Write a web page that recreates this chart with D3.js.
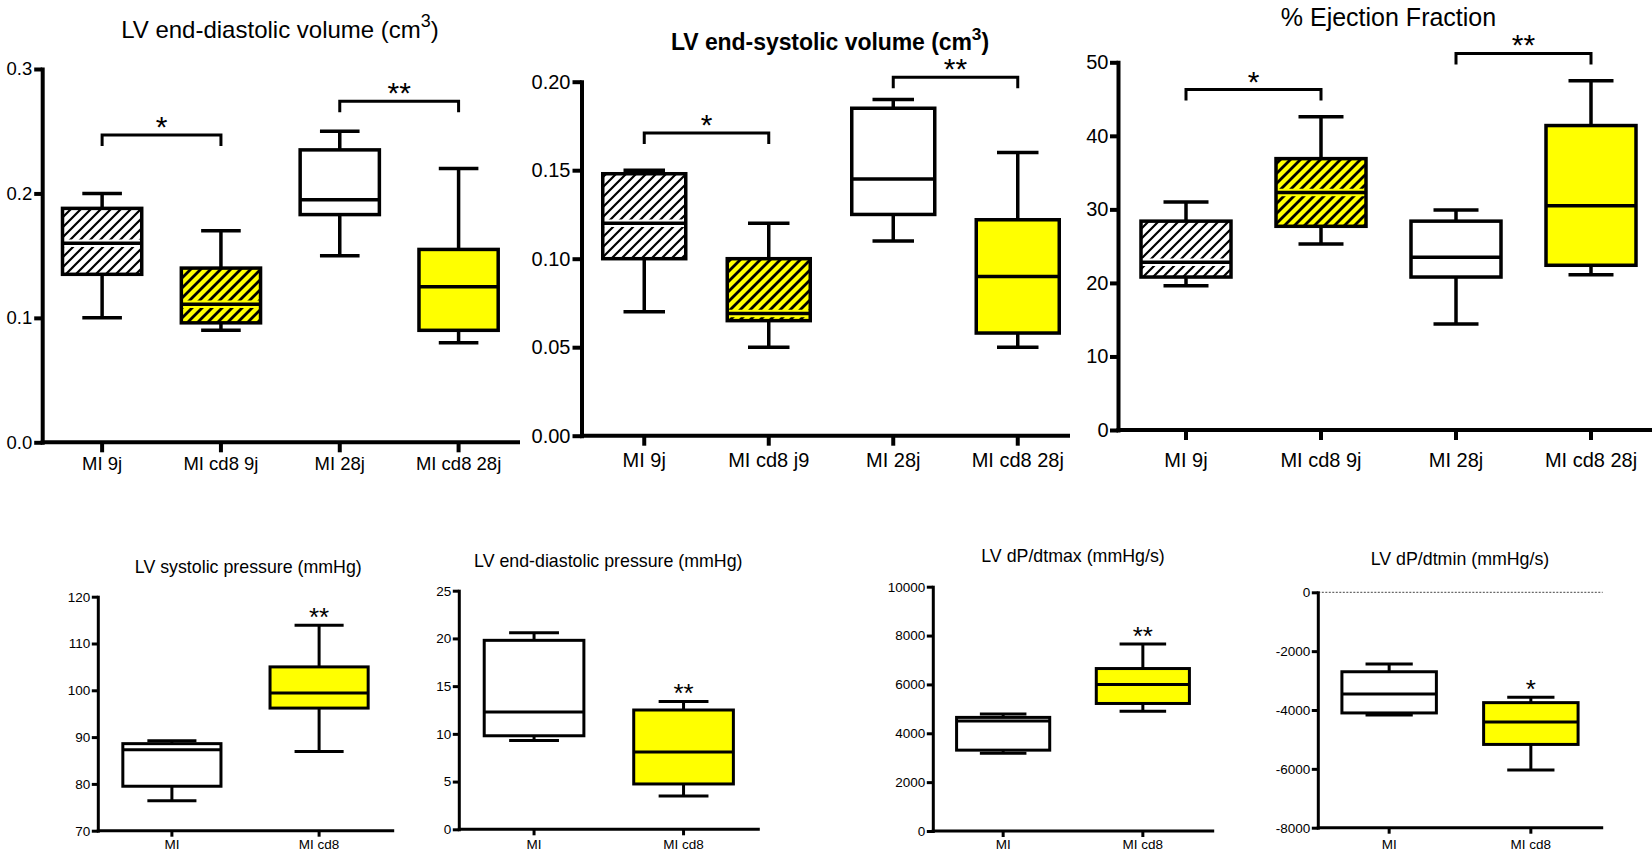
<!DOCTYPE html>
<html><head><meta charset="utf-8">
<script src="https://cdn.jsdelivr.net/npm/d3@7"></script>
<style>html,body{margin:0;padding:0;background:#fff;} svg{display:block;}</style>
</head><body>
<svg id="chart" width="1652" height="858"></svg>
<script>
// ---------------- DATA ----------------
// LV end-diastolic volume (cm3)
const edvCategories = ["MI 9j", "MI cd8 9j", "MI 28j", "MI cd8 28j"];
const edvMin    = [0.100, 0.090, 0.150, 0.080];
const edvQ1     = [0.135, 0.096, 0.183, 0.090];
const edvMedian = [0.160, 0.111, 0.195, 0.125];
const edvQ3     = [0.188, 0.140, 0.235, 0.155];
const edvMax    = [0.200, 0.170, 0.250, 0.220];
const edvTicks  = [0, 0.1, 0.2, 0.3];
const edvSig    = [{from: 0, to: 1, label: "*", level: 0.247}, {from: 2, to: 3, label: "**", level: 0.274}];

// LV end-systolic volume (cm3)
const esvCategories = ["MI 9j", "MI cd8 j9", "MI 28j", "MI cd8 28j"];
const esvMin    = [0.070, 0.050, 0.110, 0.050];
const esvQ1     = [0.100, 0.065, 0.125, 0.058];
const esvMedian = [0.120, 0.069, 0.145, 0.090];
const esvQ3     = [0.148, 0.100, 0.185, 0.122];
const esvMax    = [0.150, 0.120, 0.190, 0.160];
const esvTicks  = [0, 0.05, 0.10, 0.15, 0.20];
const esvSig    = [{from: 0, to: 1, label: "*", level: 0.171}, {from: 2, to: 3, label: "**", level: 0.2025}];

// % Ejection Fraction
const efCategories = ["MI 9j", "MI cd8 9j", "MI 28j", "MI cd8 28j"];
const efMin    = [19.6, 25.3, 14.4, 21.1];
const efQ1     = [20.8, 27.7, 20.8, 22.4];
const efMedian = [22.8, 32.3, 23.5, 30.5];
const efQ3     = [28.4, 36.9, 28.4, 41.4];
const efMax    = [31.0, 42.6, 29.9, 47.5];
const efTicks  = [0, 10, 20, 30, 40, 50];
const efSig    = [{from: 0, to: 1, label: "*", level: 46.3}, {from: 2, to: 3, label: "**", level: 51.2}];

// LV systolic pressure (mmHg)
const spCategories = ["MI", "MI cd8"];
const spMin    = [76.4, 86.9];
const spQ1     = [79.5, 96.2];
const spMedian = [87.3, 99.4];
const spQ3     = [88.6, 105.0];
const spMax    = [89.2, 113.9];
const spTicks  = [70, 80, 90, 100, 110, 120];
const spSig    = [{at: 1, label: "**"}];

// LV end-diastolic pressure (mmHg)
const edpCategories = ["MI", "MI cd8"];
const edpMin    = [9.3, 3.5];
const edpQ1     = [9.8, 4.75];
const edpMedian = [12.3, 8.1];
const edpQ3     = [19.8, 12.5];
const edpMax    = [20.6, 13.4];
const edpTicks  = [0, 5, 10, 15, 20, 25];
const edpSig    = [{at: 1, label: "**"}];

// LV dP/dtmax (mmHg/s)
const dpmaxCategories = ["MI", "MI cd8"];
const dpmaxMin    = [3180, 4900];
const dpmaxQ1     = [3310, 5220];
const dpmaxMedian = [4500, 6000];
const dpmaxQ3     = [4650, 6650];
const dpmaxMax    = [4790, 7650];
const dpmaxTicks  = [0, 2000, 4000, 6000, 8000, 10000];
const dpmaxSig    = [{at: 1, label: "**"}];

// LV dP/dtmin (mmHg/s)
const dpminCategories = ["MI", "MI cd8"];
const dpminMin    = [-4170, -6040];
const dpminQ1     = [-4100, -5170];
const dpminMedian = [-3460, -4410];
const dpminQ3     = [-2700, -3750];
const dpminMax    = [-2440, -3570];
const dpminTicks  = [-8000, -6000, -4000, -2000, 0];
const dpminSig    = [{at: 1, label: "*"}];

// ---------------- LAYOUT / STYLE ----------------
const FONT = "'Liberation Sans', Arial, Helvetica, sans-serif";
const YELLOW = "#ffff00";
const topStyle = {titleSize: 24, labelSize: 18.5, tickLabelSize: 18.5, yTickSize: 8, yTickPad: 2, xTickSize: 10,
             sw: 3.5, axisW: 4, bracketW: 3, bracketDrop: 11, starSize: 30};
const botStyle = {titleSize: 17.8, labelSize: 13.5, tickLabelSize: 13.5, yTickSize: 6, yTickPad: 1.5, xTickSize: 6,
             sw: 3, axisW: 3, starSize: 26, labelY: 849};

function rows(cats, mn, q1, md, q3, mx) {
  return cats.map((c, i) => ({cat: c, min: mn[i], q1: q1[i], median: md[i], q3: q3[i], max: mx[i], i}));
}

const panels = [
  Object.assign({}, topStyle, {
    data: rows(edvCategories, edvMin, edvQ1, edvMedian, edvQ3, edvMax), cats: edvCategories,
    ticks: edvTicks, fmt: d3.format(".1f"), sig: edvSig, domain: [0, 0.3],
    title: ["LV end-diastolic volume (cm", "3", ")"], titleX: 280, titleY: 38,
    x0: 42.7, x1: 518, axisEnd: 518, yTop: 69, yBottom: 442.3, labelY: 470,
    yellow: [false, true, false, true], hatched: [true, true, false, false]
  }),
  Object.assign({}, topStyle, {
    data: rows(esvCategories, esvMin, esvQ1, esvMedian, esvQ3, esvMax), cats: esvCategories,
    ticks: esvTicks, fmt: d3.format(".2f"), sig: esvSig, domain: [0, 0.2],
    title: ["LV end-systolic volume (cm", "3", ")"], titleX: 830, titleY: 50, titleSize: 23, bold: true, titleWidth: 318,
    x0: 582, x1: 1080, axisEnd: 1068, yTop: 81.7, yBottom: 435.7, labelY: 467,
    labelSize: 20, tickLabelSize: 20, yTickSize: 9,
    yellow: [false, true, false, true], hatched: [true, true, false, false]
  }),
  Object.assign({}, topStyle, {
    data: rows(efCategories, efMin, efQ1, efMedian, efQ3, efMax), cats: efCategories,
    ticks: efTicks, fmt: d3.format("d"), sig: efSig, domain: [0, 50],
    title: ["% Ejection Fraction"], titleX: 1388.5, titleY: 26, titleSize: 25,
    x0: 1118.5, x1: 1658.5, axisEnd: 1652, yTop: 62.3, yBottom: 430, labelY: 467,
    labelSize: 20, tickLabelSize: 20, yTickPad: 1.5,
    yellow: [false, true, false, true], hatched: [true, true, false, false]
  }),
  Object.assign({}, botStyle, {
    data: rows(spCategories, spMin, spQ1, spMedian, spQ3, spMax), cats: spCategories,
    ticks: spTicks, fmt: d3.format("d"), stars: spSig, domain: [70, 120],
    title: ["LV systolic pressure (mmHg)"], titleX: 248.3, titleY: 572.7,
    x0: 98.3, x1: 392.7, axisEnd: 392.7, yTop: 596.7, yBottom: 830.7,
    yellow: [false, true], hatched: [false, false]
  }),
  Object.assign({}, botStyle, {
    data: rows(edpCategories, edpMin, edpQ1, edpMedian, edpQ3, edpMax), cats: edpCategories,
    ticks: edpTicks, fmt: d3.format("d"), stars: edpSig, domain: [0, 25],
    title: ["LV end-diastolic pressure (mmHg)"], titleX: 608.3, titleY: 566.7,
    x0: 459.3, x1: 758.3, axisEnd: 758.3, yTop: 590.7, yBottom: 829.3,
    yellow: [false, true], hatched: [false, false]
  }),
  Object.assign({}, botStyle, {
    data: rows(dpmaxCategories, dpmaxMin, dpmaxQ1, dpmaxMedian, dpmaxQ3, dpmaxMax), cats: dpmaxCategories,
    ticks: dpmaxTicks, fmt: d3.format("d"), stars: dpmaxSig, domain: [0, 10000],
    title: ["LV dP/dtmax (mmHg/s)"], titleX: 1073, titleY: 561.7,
    x0: 933.3, x1: 1212.7, axisEnd: 1212.7, yTop: 586.7, yBottom: 831,
    yellow: [false, true], hatched: [false, false]
  }),
  Object.assign({}, botStyle, {
    data: rows(dpminCategories, dpminMin, dpminQ1, dpminMedian, dpminQ3, dpminMax), cats: dpminCategories,
    ticks: dpminTicks, fmt: d => String(d), stars: dpminSig, domain: [-8000, 0],
    title: ["LV dP/dtmin (mmHg/s)"], titleX: 1460, titleY: 565,
    x0: 1318.3, x1: 1601.7, axisEnd: 1601.7, yTop: 592.3, yBottom: 827.7, zeroLineEnd: 1602.7,
    yellow: [false, true], hatched: [false, false]
  })
];

// ---------------- DRAW ----------------
const svg = d3.select("#chart").style("font-family", FONT);
svg.append("rect").attr("width", 1652).attr("height", 858).attr("fill", "#fff");

const defs = svg.append("defs");
[["hatchW", "#fff", 2.2], ["hatchY", YELLOW, 2.8]].forEach(([id, bg, w]) => {
  const pat = defs.append("pattern").attr("id", id).attr("patternUnits", "userSpaceOnUse")
    .attr("width", 10).attr("height", 10);
  pat.append("rect").attr("width", 10).attr("height", 10).attr("fill", bg);
  pat.append("path").attr("d", "M-2.5,2.5L2.5,-2.5M0,10L10,0M7.5,12.5L12.5,7.5")
    .attr("stroke", "#000").attr("stroke-width", w);
});

function drawPanel(p) {
  const g = svg.append("g");
  const x = d3.scaleBand().domain(p.cats).range([p.x0, p.x1]).paddingInner(0).paddingOuter(0);
  const y = d3.scaleLinear().domain(p.domain).range([p.yBottom, p.yTop]);
  const step = x.bandwidth();
  const bw = step * 2 / 3;
  const capW = bw / 2;
  const cx = c => x(c) + step / 2;

  if (p.zeroLineEnd) {
    g.append("line").attr("x1", p.x0).attr("x2", p.zeroLineEnd).attr("y1", y(0)).attr("y2", y(0))
      .attr("stroke", "#444").attr("stroke-width", 1).attr("stroke-dasharray", "2,1.5");
  }

  // y axis
  const ya = g.append("g").attr("transform", `translate(${p.x0 - 0.5},0)`)
    .call(d3.axisLeft(y).tickValues(p.ticks).tickFormat(p.fmt).tickSize(p.yTickSize).tickSizeOuter(0).tickPadding(p.yTickPad));
  ya.attr("font-family", FONT).attr("font-size", null);
  ya.select(".domain").attr("stroke", "#000").attr("stroke-width", p.axisW).attr("stroke-linecap", "square");
  ya.selectAll(".tick line").attr("stroke", "#000").attr("stroke-width", p.axisW);
  ya.selectAll(".tick text").style("font-size", p.tickLabelSize + "px").attr("fill", "#000");

  // x axis
  const xa = g.append("g").attr("transform", `translate(0,${p.yBottom})`)
    .call(d3.axisBottom(x).tickSize(p.xTickSize).tickSizeOuter(0));
  xa.attr("font-family", FONT).attr("font-size", null);
  xa.select(".domain").remove();
  xa.selectAll(".tick line").attr("stroke", "#000").attr("stroke-width", p.axisW);
  xa.selectAll(".tick text").attr("y", p.labelY - p.yBottom).attr("dy", null)
    .style("font-size", p.labelSize + "px").attr("fill", "#000");
  g.append("line").attr("x1", p.x0).attr("x2", p.axisEnd).attr("y1", p.yBottom).attr("y2", p.yBottom)
    .attr("stroke", "#000").attr("stroke-width", p.axisW).attr("stroke-linecap", "square");

  // boxes
  const box = g.selectAll("g.box").data(p.data).join("g").attr("class", "box");
  const ln = (sel) => sel.attr("stroke", "#000").attr("stroke-width", p.sw);
  box.append("line").call(ln).attr("x1", d => cx(d.cat)).attr("x2", d => cx(d.cat))
    .attr("y1", d => y(d.q3)).attr("y2", d => y(d.max));
  box.append("line").call(ln).attr("x1", d => cx(d.cat)).attr("x2", d => cx(d.cat))
    .attr("y1", d => y(d.q1)).attr("y2", d => y(d.min));
  box.append("line").call(ln).attr("x1", d => cx(d.cat) - capW / 2).attr("x2", d => cx(d.cat) + capW / 2)
    .attr("y1", d => y(d.max)).attr("y2", d => y(d.max));
  box.append("line").call(ln).attr("x1", d => cx(d.cat) - capW / 2).attr("x2", d => cx(d.cat) + capW / 2)
    .attr("y1", d => y(d.min)).attr("y2", d => y(d.min));
  box.append("rect")
    .attr("x", d => cx(d.cat) - bw / 2).attr("width", bw)
    .attr("y", d => y(d.q3)).attr("height", d => y(d.q1) - y(d.q3))
    .attr("fill", d => p.hatched[d.i] ? (p.yellow[d.i] ? "url(#hatchY)" : "url(#hatchW)") : (p.yellow[d.i] ? YELLOW : "#fff"));
  box.filter(d => p.hatched[d.i]).append("line")
    .attr("x1", d => cx(d.cat) - bw / 2).attr("x2", d => cx(d.cat) + bw / 2)
    .attr("y1", d => y(d.median)).attr("y2", d => y(d.median))
    .attr("stroke", d => p.yellow[d.i] ? YELLOW : "#fff").attr("stroke-width", p.sw + 4);
  box.append("line").call(ln)
    .attr("x1", d => cx(d.cat) - bw / 2).attr("x2", d => cx(d.cat) + bw / 2)
    .attr("y1", d => y(d.median)).attr("y2", d => y(d.median));
  box.append("rect")
    .attr("x", d => cx(d.cat) - bw / 2).attr("width", bw)
    .attr("y", d => y(d.q3)).attr("height", d => y(d.q1) - y(d.q3))
    .attr("fill", "none").attr("stroke", "#000").attr("stroke-width", p.sw);

  // significance brackets
  (p.sig || []).forEach(s => {
    const xa1 = cx(p.cats[s.from]), xb1 = cx(p.cats[s.to]), yy = y(s.level);
    g.append("path").attr("d", `M${xa1},${yy + p.bracketDrop}V${yy}H${xb1}V${yy + p.bracketDrop}`)
      .attr("fill", "none").attr("stroke", "#000").attr("stroke-width", p.bracketW);
    g.append("text").attr("x", (xa1 + xb1) / 2).attr("y", yy + 2).attr("text-anchor", "middle")
      .style("font-size", p.starSize + "px").text(s.label);
  });
  (p.stars || []).forEach(s => {
    const d = p.data[s.at];
    g.append("text").attr("x", cx(d.cat)).attr("y", y(d.max) + 1).attr("text-anchor", "middle")
      .style("font-size", p.starSize + "px").text(s.label);
  });

  // title
  const sz = p.titleSize;
  const t = g.append("text").attr("x", p.titleX).attr("y", p.titleY).attr("text-anchor", "middle")
    .style("font-size", sz + "px").style("font-weight", p.bold ? "bold" : "normal");
  t.append("tspan").text(p.title[0]);
  if (p.title.length > 1) {
    t.append("tspan").attr("dy", -sz * 0.45).style("font-size", (sz * 0.75) + "px").text(p.title[1]);
    t.append("tspan").attr("dy", sz * 0.45).text(p.title[2]);
  }
  if (p.titleWidth) {
    const w = t.node().getComputedTextLength();
    const n = p.title.join("").length;
    t.style("letter-spacing", ((p.titleWidth - w) / n) + "px");
  }
}

panels.forEach(drawPanel);
</script>
</body></html>
